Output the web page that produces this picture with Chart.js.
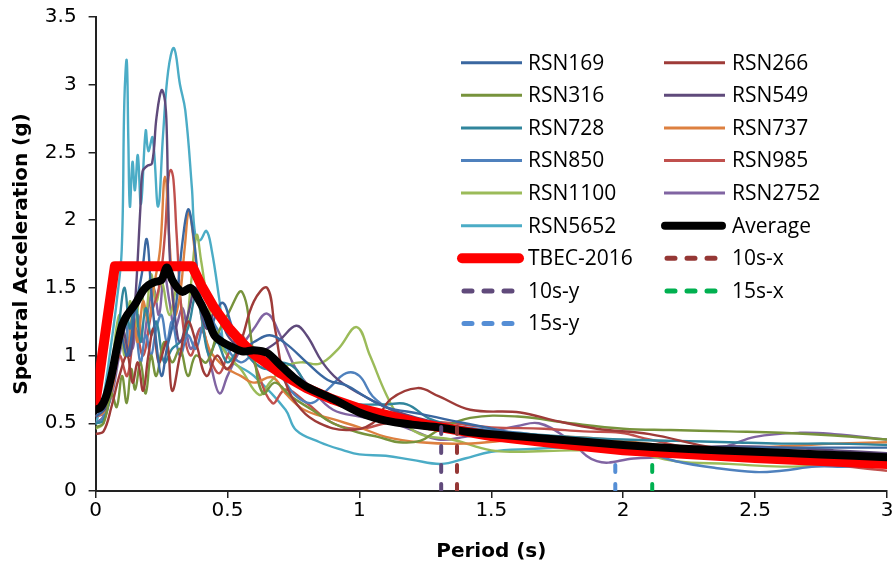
<!DOCTYPE html>
<html>
<head>
<meta charset="utf-8">
<script src="https://cdn.jsdelivr.net/npm/chart.js@4.4.1/dist/chart.umd.min.js"></script>
<style>
  html, body { margin: 0; padding: 0; background: #fff; }
  #spectra { display: block; }
</style>
</head>
<body>
<canvas id="spectra" width="892" height="572"></canvas>
<script>
// Periodes (s) et accelerations spectrales (g)
const periodsRSN169 = [0, 0.03, 0.06, 0.09, 0.12, 0.15, 0.175, 0.194, 0.21, 0.23, 0.25, 0.27, 0.3, 0.33, 0.351, 0.37, 0.4, 0.43, 0.48, 0.52, 0.56, 0.6, 0.66, 0.72, 0.8, 0.88, 0.95, 1.02, 1.1, 1.23, 1.35, 1.48, 1.6, 1.74, 1.9, 2.0, 2.2, 2.4, 2.6, 2.8, 3.0];
const saRSN169 = [0.55, 0.6, 0.8, 1.2, 1.0, 1.35, 1.6, 1.86, 1.5, 1.1, 0.85, 1.05, 1.3, 1.85, 2.08, 1.9, 1.4, 1.2, 1.39, 1.2, 1.05, 1.1, 1.15, 1.09, 0.95, 0.82, 0.78, 0.7, 0.62, 0.57, 0.52, 0.47, 0.42, 0.38, 0.36, 0.34, 0.33, 0.32, 0.32, 0.32, 0.32];

const periodsRSN266 = [0, 0.03, 0.06, 0.09, 0.12, 0.14, 0.16, 0.18, 0.2, 0.22, 0.24, 0.27, 0.29, 0.32, 0.35, 0.38, 0.42, 0.46, 0.5, 0.55, 0.6, 0.65, 0.68, 0.72, 0.78, 0.85, 0.95, 1.05, 1.12, 1.22, 1.3, 1.42, 1.61, 1.74, 1.9, 2.1, 2.35, 2.6, 2.8, 3.0];
const saRSN266 = [0.42, 0.44, 0.62, 0.85, 1.0, 0.8, 0.95, 0.74, 1.0, 1.2, 0.95, 1.1, 0.74, 1.0, 1.25, 1.1, 0.85, 1.0, 0.9, 1.1, 1.4, 1.5, 1.2, 0.8, 0.6, 0.5, 0.45, 0.5, 0.68, 0.76, 0.7, 0.6, 0.58, 0.52, 0.46, 0.42, 0.32, 0.3, 0.28, 0.26];

const periodsRSN316 = [0, 0.03, 0.06, 0.08, 0.1, 0.118, 0.135, 0.15, 0.17, 0.19, 0.21, 0.23, 0.26, 0.29, 0.32, 0.35, 0.38, 0.42, 0.46, 0.5, 0.555, 0.6, 0.635, 0.68, 0.74, 0.82, 0.9, 1.0, 1.07, 1.15, 1.23, 1.3, 1.42, 1.6, 1.8, 2.0, 2.18, 2.4, 2.6, 2.8, 3.0];
const saRSN316 = [0.47, 0.5, 0.72, 0.62, 0.85, 0.65, 0.9, 0.75, 0.95, 0.72, 1.0, 0.85, 1.1, 0.95, 1.05, 0.85, 1.0, 0.95, 1.15, 1.3, 1.47, 1.0, 0.72, 0.8, 0.7, 0.6, 0.5, 0.43, 0.4, 0.36, 0.37, 0.45, 0.54, 0.55, 0.5, 0.46, 0.45, 0.44, 0.43, 0.41, 0.38];

const periodsRSN549 = [0, 0.04, 0.07, 0.1, 0.13, 0.15, 0.17, 0.178, 0.195, 0.214, 0.231, 0.25, 0.263, 0.27, 0.275, 0.282, 0.3, 0.32, 0.35, 0.38, 0.42, 0.46, 0.5, 0.55, 0.6, 0.65, 0.7, 0.76, 0.8, 0.86, 0.92, 1.0, 1.1, 1.2, 1.3, 1.4, 1.5, 1.65, 1.8, 2.0, 2.2, 2.4, 2.6, 2.8, 3.0];
const saRSN549 = [0.55, 0.62, 0.95, 1.2, 1.0, 1.4, 2.1, 2.36, 2.4, 2.42, 2.76, 2.96, 2.88, 2.64, 2.15, 1.7, 1.3, 1.1, 1.3, 1.5, 1.2, 1.35, 1.15, 1.05, 1.0, 1.05, 1.12, 1.22, 1.15, 0.95, 0.82, 0.72, 0.62, 0.55, 0.5, 0.46, 0.42, 0.38, 0.36, 0.34, 0.32, 0.33, 0.32, 0.3, 0.28];

const periodsRSN728 = [0, 0.03, 0.06, 0.09, 0.11, 0.13, 0.15, 0.17, 0.19, 0.21, 0.23, 0.26, 0.29, 0.32, 0.35, 0.38, 0.4, 0.43, 0.46, 0.5, 0.55, 0.6, 0.65, 0.7, 0.76, 0.82, 0.93, 1.0, 1.1, 1.18, 1.27, 1.4, 1.5, 1.65, 1.8, 2.0, 2.2, 2.4, 2.6, 2.8, 3.0];
const saRSN728 = [0.5, 0.52, 0.75, 1.25, 1.5, 1.2, 1.4, 1.1, 1.35, 1.15, 1.25, 0.95, 1.05, 1.1, 1.2, 1.45, 1.3, 1.0, 1.1, 0.95, 1.05, 0.95, 0.9, 0.95, 0.9, 0.72, 0.66, 0.64, 0.64, 0.64, 0.53, 0.46, 0.44, 0.42, 0.4, 0.38, 0.37, 0.36, 0.35, 0.35, 0.34];

const periodsRSN737 = [0, 0.03, 0.055, 0.08, 0.1, 0.12, 0.14, 0.16, 0.18, 0.2, 0.22, 0.244, 0.263, 0.282, 0.3, 0.32, 0.338, 0.354, 0.377, 0.4, 0.43, 0.47, 0.5, 0.55, 0.6, 0.67, 0.72, 0.79, 0.9, 1.0, 1.1, 1.23, 1.4, 1.6, 1.8, 2.0, 2.2, 2.4, 2.6, 2.8, 3.0];
const saRSN737 = [0.55, 0.58, 0.68, 0.95, 1.15, 1.0, 1.3, 1.1, 1.4, 1.25, 1.5, 1.78, 2.32, 1.78, 1.3, 1.45, 1.8, 2.06, 1.75, 1.3, 1.05, 0.95, 0.9, 0.85, 0.8, 0.84, 0.72, 0.6, 0.53, 0.47, 0.4, 0.36, 0.35, 0.38, 0.4, 0.37, 0.33, 0.32, 0.33, 0.35, 0.36];

const periodsRSN850 = [0, 0.03, 0.06, 0.09, 0.11, 0.13, 0.15, 0.17, 0.19, 0.21, 0.23, 0.25, 0.27, 0.29, 0.32, 0.35, 0.38, 0.42, 0.46, 0.5, 0.55, 0.6, 0.65, 0.7, 0.76, 0.82, 0.88, 0.95, 1.0, 1.05, 1.12, 1.23, 1.35, 1.5, 1.65, 1.8, 1.99, 2.1, 2.2, 2.35, 2.5, 2.6, 2.73, 2.85, 3.0];
const saRSN850 = [0.5, 0.55, 0.85, 1.1, 1.3, 1.05, 1.2, 0.95, 1.15, 1.0, 1.2, 1.3, 1.1, 1.25, 1.0, 1.15, 1.05, 1.3, 1.2, 1.05, 0.95, 1.0, 0.9, 0.85, 0.7, 0.65, 0.75, 0.87, 0.85, 0.7, 0.6, 0.52, 0.48, 0.45, 0.42, 0.38, 0.36, 0.28, 0.22, 0.17, 0.14, 0.15, 0.18, 0.18, 0.2];

const periodsRSN985 = [0, 0.03, 0.06, 0.09, 0.12, 0.15, 0.18, 0.21, 0.24, 0.263, 0.275, 0.285, 0.295, 0.307, 0.33, 0.36, 0.4, 0.44, 0.47, 0.5, 0.55, 0.6, 0.67, 0.72, 0.8, 0.9, 1.0, 1.1, 1.2, 1.35, 1.5, 1.7, 1.85, 1.99, 2.1, 2.3, 2.5, 2.7, 2.85, 3.0];
const saRSN985 = [0.5, 0.55, 0.75, 1.0, 0.85, 1.2, 1.0, 1.3, 1.5, 1.9, 2.29, 2.37, 2.3, 1.9, 1.25, 1.0, 1.2, 0.95, 0.87, 1.0, 1.15, 0.95, 0.65, 0.75, 0.65, 0.5, 0.46, 0.5, 0.52, 0.5, 0.47, 0.46, 0.44, 0.43, 0.38, 0.3, 0.26, 0.22, 0.18, 0.15];

const periodsRSN1100 = [0, 0.03, 0.06, 0.09, 0.11, 0.13, 0.15, 0.17, 0.19, 0.21, 0.23, 0.25, 0.28, 0.31, 0.34, 0.36, 0.383, 0.4, 0.43, 0.47, 0.5, 0.55, 0.62, 0.66, 0.72, 0.78, 0.85, 0.92, 0.99, 1.04, 1.1, 1.15, 1.23, 1.35, 1.5, 1.6, 1.8, 2.0, 2.2, 2.4, 2.6, 2.8, 3.0];
const saRSN1100 = [0.46, 0.5, 0.9, 1.3, 1.0, 1.4, 1.2, 1.5, 1.3, 1.6, 1.4, 1.55, 1.3, 1.5, 1.2, 1.5, 1.89, 1.7, 1.35, 1.1, 1.0, 0.9, 0.71, 0.8, 0.92, 0.95, 0.94, 1.05, 1.21, 1.0, 0.72, 0.55, 0.42, 0.38, 0.3, 0.29, 0.3, 0.3, 0.22, 0.2, 0.18, 0.19, 0.2];

const periodsRSN2752 = [0, 0.03, 0.06, 0.09, 0.12, 0.14, 0.16, 0.18, 0.2, 0.22, 0.24, 0.26, 0.28, 0.3, 0.33, 0.36, 0.4, 0.44, 0.47, 0.5, 0.55, 0.6, 0.65, 0.7, 0.76, 0.82, 0.9, 1.0, 1.1, 1.2, 1.3, 1.4, 1.5, 1.6, 1.68, 1.78, 1.9, 2.04, 2.2, 2.39, 2.5, 2.67, 2.8, 3.0];
const saRSN2752 = [0.55, 0.57, 0.7, 1.0, 1.25, 1.05, 1.3, 1.1, 1.35, 1.5, 1.3, 1.6, 1.4, 1.2, 1.35, 1.05, 1.2, 0.9, 0.72, 0.85, 1.05, 1.2, 1.31, 1.15, 0.9, 0.75, 0.6, 0.55, 0.52, 0.45, 0.38, 0.4, 0.44, 0.48, 0.5, 0.4, 0.22, 0.24, 0.26, 0.33, 0.4, 0.43, 0.42, 0.38];

const periodsRSN5652 = [0, 0.03, 0.06, 0.08, 0.099, 0.109, 0.118, 0.124, 0.13, 0.14, 0.149, 0.16, 0.172, 0.19, 0.2, 0.216, 0.237, 0.256, 0.275, 0.297, 0.32, 0.34, 0.365, 0.377, 0.395, 0.42, 0.44, 0.47, 0.5, 0.6, 0.72, 0.76, 0.85, 0.94, 1.0, 1.1, 1.2, 1.31, 1.4, 1.5, 1.65, 1.8, 2.0, 2.2, 2.4, 2.6, 2.8, 3.0];
const saRSN5652 = [0.49, 0.7, 1.1, 1.4, 1.78, 2.88, 3.18, 2.6, 2.1, 2.43, 2.22, 2.48, 2.12, 2.66, 2.51, 2.61, 2.1, 2.64, 3.1, 3.27, 3.0, 2.81, 2.24, 1.9, 1.85, 1.92, 1.78, 1.4, 1.0, 0.85, 0.6, 0.45, 0.36, 0.3, 0.27, 0.26, 0.23, 0.2, 0.24, 0.29, 0.31, 0.32, 0.3, 0.28, 0.26, 0.27, 0.25, 0.23];

const periodsAverage = [0, 0.02, 0.04, 0.06, 0.08, 0.1, 0.12, 0.15, 0.18, 0.2, 0.22, 0.25, 0.27, 0.29, 0.31, 0.33, 0.36, 0.38, 0.42, 0.45, 0.48, 0.52, 0.56, 0.6, 0.65, 0.7, 0.75, 0.8, 0.9, 1.0, 1.1, 1.2, 1.3, 1.4, 1.5, 1.75, 2.0, 2.25, 2.5, 2.75, 3.0];
const saAverage = [0.6, 0.62, 0.7, 0.85, 1.05, 1.22, 1.3, 1.38, 1.48, 1.52, 1.54, 1.56, 1.65, 1.56, 1.5, 1.47, 1.5, 1.45, 1.3, 1.15, 1.1, 1.06, 1.03, 1.04, 1.02, 0.93, 0.84, 0.77, 0.68, 0.58, 0.52, 0.49, 0.47, 0.44, 0.42, 0.38, 0.34, 0.31, 0.29, 0.27, 0.25];

// Spectre de calcul TBEC-2016
const periodsTBEC = [0, 0.073, 0.366, 0.4, 0.45, 0.5, 0.55, 0.6, 0.7, 0.8, 0.9, 1.0, 1.25, 1.5, 1.75, 2.0, 2.5, 3.0];
const saTBEC = [0.66, 1.66, 1.66, 1.52, 1.35, 1.215, 1.105, 1.01, 0.87, 0.76, 0.675, 0.61, 0.49, 0.405, 0.35, 0.30, 0.243, 0.20];

// Periodes des batiments (lignes verticales)
const periods10sX = [1.37, 1.37];
const periods10sY = [1.31, 1.31];
const periods15sX = [2.11, 2.11];
const periods15sY = [1.97, 1.97];
const sa10s = [0, 0.5];
const sa15s = [0, 0.24];

const xTicks = [0, 0.5, 1, 1.5, 2, 2.5, 3];
const yTicks = [0, 0.5, 1, 1.5, 2, 2.5, 3, 3.5];

// Couleurs
const colors = {
    RSN169: '#3a67a0',
    RSN266: '#9e3b38',
    RSN316: '#77933c',
    RSN549: '#5f4a7b',
    RSN728: '#31859c',
    RSN737: '#dd8040',
    RSN850: '#4f81bd',
    RSN985: '#c0504d',
    RSN1100: '#9bbb59',
    RSN2752: '#8064a2',
    RSN5652: '#4bacc6',
    average: '#000000',
    tbec: '#ff0000',
    s10x: '#953735',
    s10y: '#604a7b',
    s15x: '#00b050',
    s15y: '#558ed5',
    axis: '#222222',
    text: '#000000'
};

const axisFont = "'DejaVu Sans', 'Liberation Sans', sans-serif";

function toPoints(periods, values) {
    return periods.map((t, i) => ({ x: t, y: values[i] }));
}

function record(label, periods, values) {
    return {
        label: label,
        data: toPoints(periods, values),
        borderColor: colors[label],
        borderWidth: 2.4,
        tension: 0.4,
        pointRadius: 0,
        order: 5,
        kind: 'thin'
    };
}

function dashed(label, periods, values, color) {
    return {
        label: label,
        data: toPoints(periods, values),
        borderColor: color,
        borderWidth: 4,
        borderDash: [7, 12],
        borderCapStyle: 'round',
        pointRadius: 0,
        order: 0,
        kind: 'dash'
    };
}

const datasets = [
    record('RSN169', periodsRSN169, saRSN169),
    record('RSN266', periodsRSN266, saRSN266),
    record('RSN316', periodsRSN316, saRSN316),
    record('RSN549', periodsRSN549, saRSN549),
    record('RSN728', periodsRSN728, saRSN728),
    record('RSN737', periodsRSN737, saRSN737),
    record('RSN850', periodsRSN850, saRSN850),
    record('RSN985', periodsRSN985, saRSN985),
    record('RSN1100', periodsRSN1100, saRSN1100),
    record('RSN2752', periodsRSN2752, saRSN2752),
    record('RSN5652', periodsRSN5652, saRSN5652),
    {
        label: 'Average',
        data: toPoints(periodsAverage, saAverage),
        borderColor: colors.average,
        borderWidth: 8,
        tension: 0.3,
        borderJoinStyle: 'round',
        borderCapStyle: 'round',
        pointRadius: 0,
        order: 1,
        kind: 'thick'
    },
    {
        label: 'TBEC-2016',
        data: toPoints(periodsTBEC, saTBEC),
        borderColor: colors.tbec,
        borderWidth: 10,
        tension: 0,
        borderJoinStyle: 'round',
        borderCapStyle: 'round',
        pointRadius: 0,
        order: 2,
        kind: 'thick'
    },
    dashed('10s-x', periods10sX, sa10s, colors.s10x),
    dashed('10s-y', periods10sY, sa10s, colors.s10y),
    dashed('15s-x', periods15sX, sa15s, colors.s15x),
    dashed('15s-y', periods15sY, sa15s, colors.s15y)
];

// Legende sur deux colonnes dans la zone du graphique
const gridLegend = {
    id: 'gridLegend',
    afterDraw(chart) {
        const ctx = chart.ctx;
        ctx.save();
        ctx.font = "21px 'Open Sans', sans-serif";
        ctx.textBaseline = 'middle';
        ctx.fillStyle = colors.text;
        chart.data.datasets.forEach((ds, i) => {
            const col = i % 2;
            const row = Math.floor(i / 2);
            const x0 = col ? 664 : 461;
            const x1 = x0 + 61;
            const y = 62.7 + row * 32.6;
            ctx.save();
            ctx.strokeStyle = ds.borderColor;
            if (ds.kind === 'thin') {
                ctx.lineWidth = 3;
                ctx.lineCap = 'butt';
                ctx.beginPath(); ctx.moveTo(x0, y); ctx.lineTo(x1, y); ctx.stroke();
            } else if (ds.kind === 'thick') {
                ctx.lineWidth = ds.borderWidth;
                ctx.lineCap = 'round';
                ctx.beginPath(); ctx.moveTo(x0 + 1, y); ctx.lineTo(x1 - 3, y); ctx.stroke();
            } else {
                ctx.lineWidth = 5;
                ctx.lineCap = 'round';
                ctx.setLineDash([8, 12]);
                ctx.beginPath(); ctx.moveTo(x0 + 3, y); ctx.lineTo(x1, y); ctx.stroke();
            }
            ctx.restore();
            ctx.fillText(ds.label, col ? 732 : 528, y + 1);
        });
        ctx.restore();
    }
};

new Chart(document.getElementById('spectra'), {
    type: 'line',
    data: { datasets: datasets },
    plugins: [gridLegend],
    options: {
        responsive: false,
        animation: false,
        devicePixelRatio: 1,
        layout: { padding: { top: 17, right: 5, left: 0, bottom: 0 } },
        plugins: {
            legend: { display: false },
            tooltip: { enabled: false }
        },
        scales: {
            x: {
                type: 'linear',
                min: 0,
                max: 3,
                afterBuildTicks: (scale) => { scale.ticks = xTicks.map(v => ({ value: v })); },
                afterFit: (scale) => {
                    scale.height = 81;
                    scale.paddingLeft = 0;
                    scale.paddingRight = 0;
                },
                ticks: {
                    color: colors.text,
                    font: { family: axisFont, size: 20 },
                    padding: 1,
                    maxRotation: 0,
                    callback: (v) => String(v)
                },
                grid: { display: true, drawOnChartArea: false, drawTicks: true, tickLength: 7, color: colors.axis, lineWidth: 1.5 },
                border: { display: true, color: colors.axis, width: 2 },
                title: {
                    display: true,
                    text: 'Period (s)',
                    color: colors.text,
                    font: { family: axisFont, size: 20, weight: 'bold' },
                    padding: { top: 0, bottom: 8 }
                }
            },
            y: {
                type: 'linear',
                min: 0,
                max: 3.5,
                afterBuildTicks: (scale) => { scale.ticks = yTicks.map(v => ({ value: v })); },
                afterFit: (scale) => {
                    scale.width = 95.6;
                    scale.paddingTop = 0;
                    scale.paddingBottom = 0;
                },
                ticks: {
                    color: colors.text,
                    font: { family: axisFont, size: 20 },
                    padding: 12,
                    callback: (v) => String(v)
                },
                grid: { display: true, drawOnChartArea: false, drawTicks: true, tickLength: 7, color: colors.axis, lineWidth: 1.5 },
                border: { display: true, color: colors.axis, width: 2 },
                title: {
                    display: true,
                    text: 'Spectral Acceleration (g)',
                    color: colors.text,
                    font: { family: axisFont, size: 20, weight: 'bold' },
                    padding: { top: 10, bottom: 0 }
                }
            }
        }
    }
});
</script>
</body>
</html>
